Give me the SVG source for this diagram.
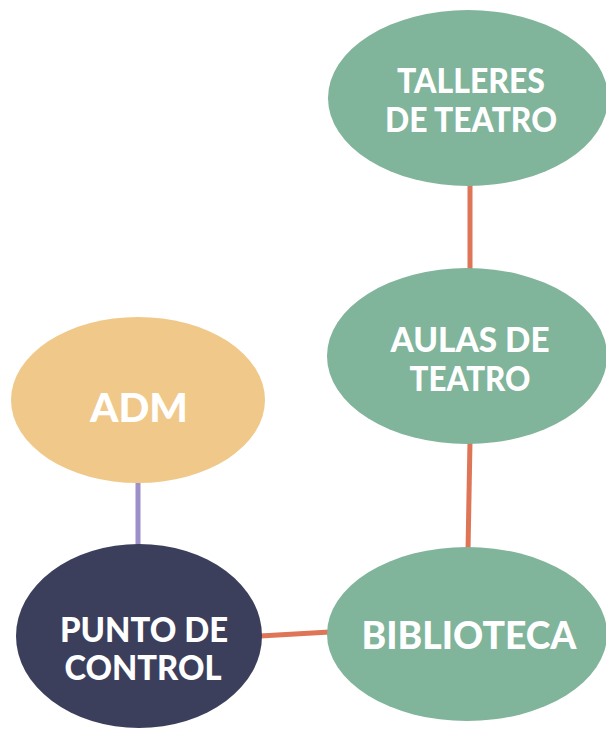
<svg xmlns="http://www.w3.org/2000/svg" width="606" height="729" viewBox="0 0 606 729">
<style>
.lbl{font-family:"Lato","Open Sans","Liberation Sans",sans-serif;font-weight:900;fill:#ffffff;text-anchor:middle}
.green{fill:#80B49B}
.conn{stroke-width:5;fill:none}
</style>
<rect width="606" height="729" fill="#ffffff"/>
<g id="connectors">
<line class="conn" x1="470" y1="183" x2="470" y2="272" stroke="#DE7556"/>
<line class="conn" x1="470" y1="441" x2="468" y2="551" stroke="#DE7556"/>
<line class="conn" x1="260" y1="636" x2="330" y2="632" stroke="#DE7556"/>
<line class="conn" x1="138" y1="481" x2="138" y2="548" stroke="#9D90C9"/>
</g>
<g id="talleres">
<ellipse class="green" cx="468" cy="98" rx="140" ry="88"/>
<text class="lbl" x="471" y="93" font-size="34" textLength="148" lengthAdjust="spacingAndGlyphs">TALLERES</text>
<text class="lbl" x="471" y="132" font-size="34" textLength="172" lengthAdjust="spacingAndGlyphs">DE TEATRO</text>
</g>
<g id="aulas">
<ellipse class="green" cx="467" cy="356" rx="140" ry="88"/>
<text class="lbl" x="470" y="352" font-size="34" textLength="159" lengthAdjust="spacingAndGlyphs">AULAS DE</text>
<text class="lbl" x="470" y="391" font-size="34" textLength="121" lengthAdjust="spacingAndGlyphs">TEATRO</text>
</g>
<g id="biblioteca">
<ellipse class="green" cx="467" cy="634" rx="140" ry="87"/>
<text class="lbl" x="469" y="649" font-size="38" textLength="215" lengthAdjust="spacingAndGlyphs">BIBLIOTECA</text>
</g>
<g id="adm">
<ellipse cx="138" cy="400" rx="127" ry="83" fill="#F0C98A"/>
<text class="lbl" x="139" y="422" font-size="40" textLength="98" lengthAdjust="spacingAndGlyphs">ADM</text>
</g>
<g id="punto">
<ellipse cx="139" cy="636" rx="123" ry="92" fill="#3C3F5C"/>
<text class="lbl" x="144" y="642" font-size="34" textLength="168" lengthAdjust="spacingAndGlyphs">PUNTO DE</text>
<text class="lbl" x="143" y="680" font-size="34" textLength="157" lengthAdjust="spacingAndGlyphs">CONTROL</text>
</g>
</svg>
